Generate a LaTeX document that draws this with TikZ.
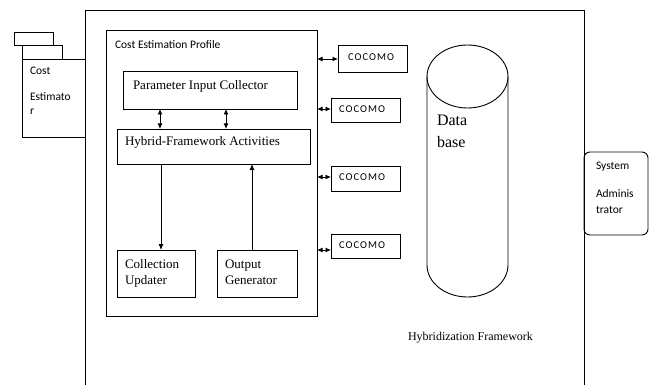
\documentclass[tikz,border=0pt]{standalone}
\usepackage{fontspec}
\setmainfont{Liberation Serif}
\newfontfamily\uisans{Carlito}
\newfontfamily\uisanswide[LetterSpace=10]{Carlito}
\usetikzlibrary{arrows.meta}
\begin{document}
\begin{tikzpicture}[x=1pt,y=-1pt,
  line width=0.9pt,
  every node/.style={inner sep=0pt,outer sep=0pt},
  box/.style={draw,rectangle,anchor=north west},
  lbl/.style={anchor=base west,font=\fontsize{13}{15}\selectfont},
  slbl/.style={anchor=base west,font=\uisans\fontsize{11.5}{13}\selectfont},
  model/.style={anchor=base west,font=\uisanswide\fontsize{10.5}{12}\selectfont},
  arr/.style={-{Latex[length=6pt,width=5pt]}},
  darr/.style={{Latex[length=5.5pt,width=5pt]}-{Latex[length=5.5pt,width=5pt]}}]
\useasboundingbox (0,0) rectangle (650,385);

% outer framework boundary (open at the bottom)
\draw (85,385) -- (85,10) -- (584,10) -- (584,385);

% cost estimator actor with its two tabs
\node[box,minimum width=39pt,minimum height=13pt] (tabA) at (14,32) {};
\node[box,minimum width=40pt,minimum height=14pt] (tabB) at (22,45) {};
\node[box,minimum width=63pt,minimum height=78pt] (estim) at (22,59) {};
\node[slbl] (estA) at (30,75) {Cost};
\node[slbl] (estB) at (30,101) {Estimato};
\node[slbl] (estC) at (30,115) {r};

% cost estimation profile
\node[box,minimum width=211pt,minimum height=286pt] (profile) at (106,30) {};
\node[slbl] (profT) at (115,49) {Cost Estimation Profile};

\node[box,minimum width=174pt,minimum height=38pt] (pic) at (123,71) {};
\node[lbl] (picT) at (133,90) {Parameter Input Collector};

\node[box,minimum width=193pt,minimum height=35pt] (hfa) at (117,129) {};
\node[lbl] (hfaT) at (125,145) {Hybrid-Framework Activities};

\node[box,minimum width=78pt,minimum height=47pt] (cu) at (117,250) {};
\node[lbl] (cuA) at (125,268) {Collection};
\node[lbl] (cuB) at (125,284) {Updater};

\node[box,minimum width=80pt,minimum height=47pt] (og) at (217,250) {};
\node[lbl] (ogA) at (225,268) {Output};
\node[lbl] (ogB) at (225,284) {Generator};

\draw[darr] (pic.south -| 160,0) -- (hfa.north -| 160,0);
\draw[darr] (pic.south -| 226,0) -- (hfa.north -| 226,0);
\draw[arr] (hfa.south -| 161,0) -- (cu.north -| 161,0);
\draw[arr] (og.north -| 252,0) -- (hfa.south -| 252,0);

% COCOMO models
\node[box,minimum width=69pt,minimum height=27pt] (c1) at (338,45) {};
\node[box,minimum width=69pt,minimum height=24pt] (c2) at (331,98) {};
\node[box,minimum width=69pt,minimum height=25pt] (c3) at (331,166) {};
\node[box,minimum width=69pt,minimum height=24pt] (c4) at (331,234) {};
\node[model] (c1T) at (348,61) {COCOMO};
\node[model] (c2T) at (339,113) {COCOMO};
\node[model] (c3T) at (339,180) {COCOMO};
\node[model] (c4T) at (339,248) {COCOMO};
\draw[darr] (profile.east |- 0,59) -- (c1.west |- 0,59);
\draw[darr] (profile.east |- 0,109) -- (c2.west |- 0,109);
\draw[darr] (profile.east |- 0,177) -- (c3.west |- 0,177);
\draw[darr] (profile.east |- 0,250) -- (c4.west |- 0,250);

% database cylinder
\draw (467.5,76.5) ellipse [x radius=40.5pt, y radius=31.5pt];
\draw (427,76.5) -- (427,265) arc [start angle=180, end angle=360, x radius=40.5pt, y radius=32pt] -- (508,76.5);
\node[lbl,font=\fontsize{16}{18}\selectfont] (dbA) at (437,125) {Data};
\node[lbl,font=\fontsize{16}{18}\selectfont] (dbB) at (437,147) {base};

% system administrator actor
\node[box,rounded corners=6pt,minimum width=64pt,minimum height=83pt] (admin) at (584,152) {};
\node[slbl] (adA) at (596,169) {System};
\node[slbl] (adB) at (596,197) {Adminis};
\node[slbl] (adC) at (596,213) {trator};

% framework caption
\node[lbl,font=\fontsize{12}{14}\selectfont] (fw) at (408,340) {Hybridization Framework};
\end{tikzpicture}
\end{document}
